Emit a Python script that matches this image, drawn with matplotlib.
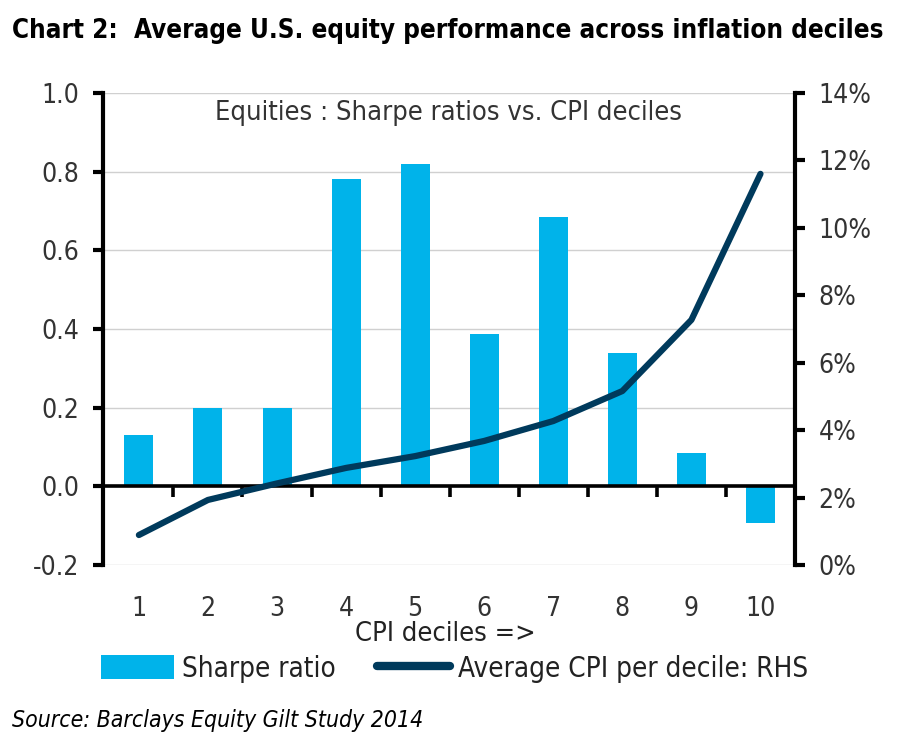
import matplotlib.pyplot as plt
from matplotlib.ticker import FuncFormatter, MultipleLocator
from matplotlib.patches import Patch
from matplotlib.lines import Line2D

deciles = [1, 2, 3, 4, 5, 6, 7, 8, 9, 10]
sharpe = [0.13, 0.20, 0.198, 0.78, 0.82, 0.386, 0.684, 0.338, 0.086, -0.092]
avg_cpi = [0.89, 1.93, 2.42, 2.88, 3.23, 3.68, 4.27, 5.16, 7.27, 11.6]

bar_color = "#00B3EA"
line_color = "#003A5C"

plt.rcParams['font.family'] = ['DejaVu Sans']
plt.rcParams['font.stretch'] = 'condensed'

fig = plt.figure(figsize=(8.97, 7.47), dpi=100)
ax = fig.add_axes([0.1148, 0.2436, 0.7715, 0.632])
ax2 = ax.twinx()

ax.bar(deciles, sharpe, width=0.42, color=bar_color, zorder=2)
ax.axhline(0, color="black", lw=2.6, zorder=3)
ax2.plot(deciles, avg_cpi, color=line_color, lw=4.5, solid_capstyle="round", zorder=4)

ax.set_xlim(0.48, 10.5)
ax.set_ylim(-0.2, 1.0)
ax2.set_ylim(0, 14)
ax.yaxis.set_major_locator(MultipleLocator(0.2))
ax.yaxis.set_major_formatter(FuncFormatter(lambda v, p: "%.1f" % v))
ax2.yaxis.set_major_locator(MultipleLocator(2))
ax2.yaxis.set_major_formatter(FuncFormatter(lambda v, p: "%d%%" % round(v)))

ax.grid(axis="y", color="#D0D0D0", lw=1, zorder=0)
ax.set_axisbelow(True)

for a in (ax, ax2):
    a.spines["top"].set_visible(False)
    a.spines["bottom"].set_visible(False)
ax.spines["right"].set_visible(False)
ax2.spines["left"].set_visible(False)
ax.spines["left"].set_linewidth(3)
ax2.spines["right"].set_linewidth(3)

ax.tick_params(axis="y", length=7, width=3, pad=10, labelsize=19, colors="black")
ax2.tick_params(axis="y", length=7, width=3, pad=10, labelsize=19, labelcolor="#333333")
ax.tick_params(axis="y", labelcolor="#333333")

ax.set_xticks(deciles)
ax.tick_params(axis="x", length=0, pad=22, labelsize=19, labelcolor="#333333")

# tick marks on the zero line between the deciles
zero_ax = ax.secondary_xaxis(0.2 / 1.2)
zero_ax.set_xticks([d + 0.5 for d in deciles[:-1]])
zero_ax.set_xticklabels([])
zero_ax.tick_params(axis="x", length=8, width=2.6, direction="out", color="black")
zero_ax.spines["bottom"].set_visible(False)

ax.text(0.5, 0.985, "Equities : Sharpe ratios vs. CPI deciles", transform=ax.transAxes,
        ha="center", va="top", fontsize=19.5, color="#333333")

fig.text(0.497, 0.151, "CPI deciles =>", ha="center", va="center", fontsize=19.5, color="#222222")

fig.text(0.013, 0.958, "Chart 2:  Average U.S. equity performance across inflation deciles",
         ha="left", va="center", fontsize=18.6, fontweight="bold", color="black")
fig.text(0.013, 0.036, "Source: Barclays Equity Gilt Study 2014", ha="left", va="center",
         fontsize=16.5, style="italic", color="black")

handles = [Patch(facecolor=bar_color, edgecolor="none"),
           Line2D([0], [0], color=line_color, lw=6, solid_capstyle="round")]
fig.legend(handles, ["Sharpe ratio", "Average CPI per decile: RHS"], loc="center",
           bbox_to_anchor=(0.507, 0.105), ncol=2, frameon=False, fontsize=20,
           handlelength=2.6, handleheight=1.0, handletextpad=0.3, columnspacing=1.5,
           labelcolor="#222222")

fig.savefig("out.png", dpi=100)
